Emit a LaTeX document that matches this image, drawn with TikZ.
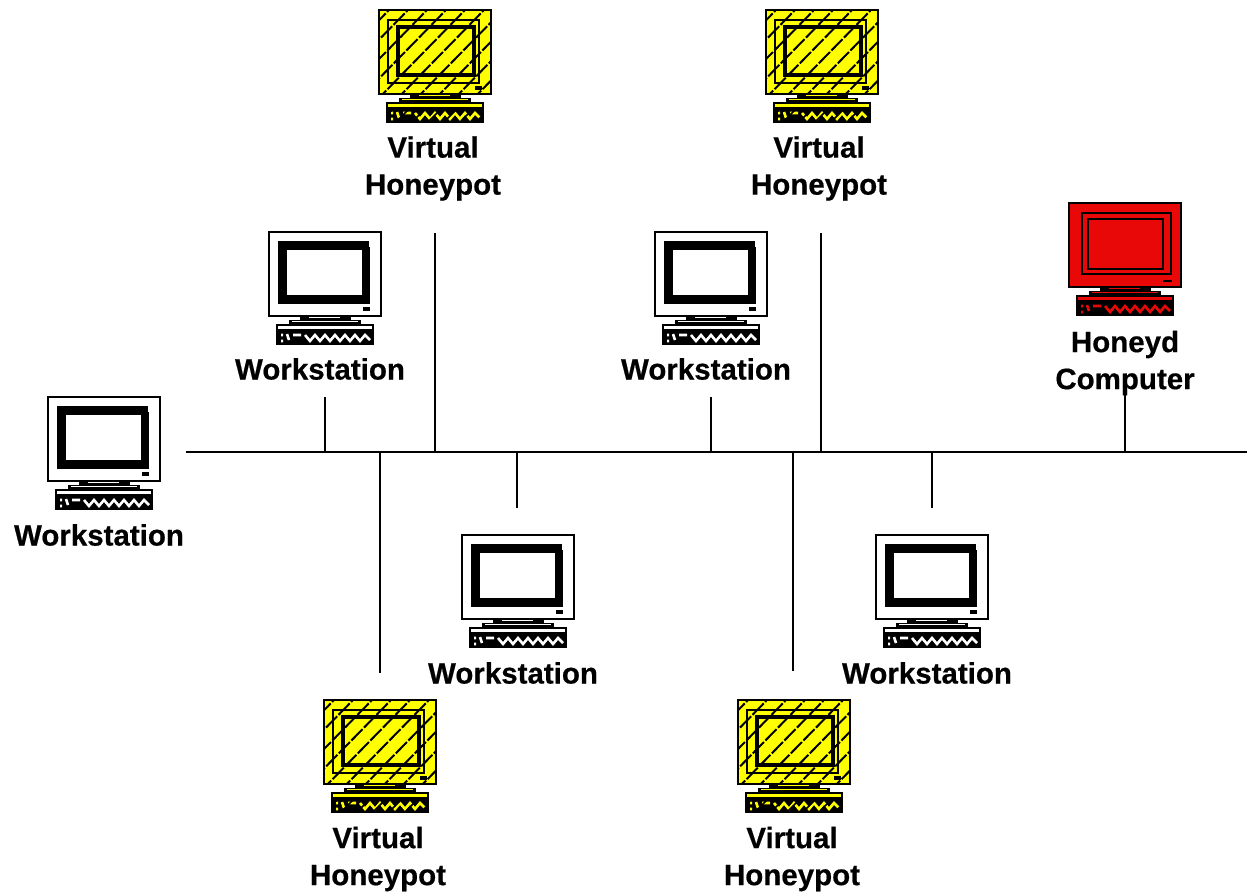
\documentclass[tikz,border=0pt]{standalone}
\usepackage{fontspec}
\setmainfont[BoldFeatures={FakeBold=0.5}]{Liberation Sans}
\definecolor{hy}{RGB}{255,255,0}
\definecolor{hr}{RGB}{232,8,8}
\newcommand{\kbd}[1]{%
  % stand
  \fill[black] (31,84) rectangle (82,88);
  \fill[#1] (40,84.5) rectangle (71,86);
  % base
  \fill[black] (20,87.5) rectangle (92,92.5);
  \fill[#1] (23,88.5) rectangle (89,90);
  % keyboard
  \fill[black] (7,92) rectangle (105,113);
  \fill[#1] (9,94) rectangle (103,97);
  \draw[#1,line width=2.6pt] (12,103) -- (14,103) (12,109) -- (14,109) (18,102) -- (20,108) (24,103) -- (32,103)
    (36,103) -- (41,109) -- (46,103) -- (51,109) -- (56,103) -- (61,109) -- (66,103) -- (71,109) -- (76,103) -- (81,109) -- (86,103) -- (91,109) -- (96,103) -- (101,108);
}
\newcommand{\hatchlines}{%
  \foreach \k in {-6,...,6}{
    \draw[black,line width=2pt,dash pattern=on 16pt off 2pt] (\k*19+15,92) -- (\k*19+107,-2);
  }
}
\tikzset{
  conn/.style={black,line width=1.7pt},
  lab/.style={font=\fontsize{29.5}{37}\selectfont\bfseries,align=center,inner sep=0pt,text=black},
  pics/plainpc/.style={code={
    \draw[black,line width=1.4pt,fill=white] (0,0) rectangle (112,84);
    \fill[black] (9,9) rectangle (101,72);
    \fill[white] (18,18) rectangle (93,63);
    \fill[white] (99.5,9) rectangle (101,15);
    \fill[black] (94,75) rectangle (101,79);
    \kbd{white}
  }},
  pics/honeypc/.style={code={
    \fill[hy] (0,0) rectangle (112,84);
    \begin{scope}
      \clip (0,0) rectangle (112,84);
      \hatchlines
    \end{scope}
    \draw[black,line width=1.6pt] (0,0) rectangle (112,84);
    \draw[black,line width=2.2pt] (9,10) rectangle (100,73);
    \draw[black,line width=2.2pt] (18,16) rectangle (96,66);
    \draw[black,line width=1.8pt] (20,18) rectangle (94,64);
    \fill[black] (96,76) rectangle (103,80);
    \kbd{hy}
    \begin{scope}
      \clip (9,98) rectangle (103,111);
      \foreach \k in {0,...,6}{\draw[black,line width=1.6pt] (\k*16+2,111) -- (\k*16+15,98);}
    \end{scope}
  }},
  pics/redpc/.style={code={
    \fill[hr,draw=black,line width=1.6pt] (0,0) rectangle (112,84);
    \draw[black,line width=2.4pt] (13,10) rectangle (102,71);
    \draw[black,line width=2.2pt] (19,16) rectangle (94,66);
    \fill[black] (94,77) rectangle (103,79);
    \kbd{hr}
  }}
}
\begin{document}
\begin{tikzpicture}[x=1pt,y=-1pt]
\useasboundingbox (0,0) rectangle (1247,894);
\fill[white] (0,0) rectangle (1247,894);
% computers
\pic at (379,10) {honeypc};
\pic at (766,10) {honeypc};
\pic at (269,232) {plainpc};
\pic at (655,232) {plainpc};
\pic at (48,397) {plainpc};
\pic at (1069,203) {redpc};
\pic at (462,535) {plainpc};
\pic at (876,535) {plainpc};
\pic at (324,700) {honeypc};
\pic at (738,700) {honeypc};
% labels
\node[lab] (vh1) at (433,168.5) {Virtual\\Honeypot};
\node[lab] (vh2) at (819,168.5) {Virtual\\Honeypot};
\node[lab] (ws1) at (320,369) {Workstation};
\node[lab] (ws2) at (706,369) {Workstation};
\node[lab] (ws3) at (99,535) {Workstation};
\node[lab] (ws4) at (513,673) {Workstation};
\node[lab] (ws5) at (927,673) {Workstation};
\node[lab] (hc) at (1125,363) {Honeyd\\Computer};
\node[lab] (vh3) at (378,859) {Virtual\\Honeypot};
\node[lab] (vh4) at (792,859) {Virtual\\Honeypot};
% connector ends
\coordinate (busL) at (186,452);
\coordinate (busR) at (1247,452);
\coordinate (a1) at (325,397); \coordinate (b1) at (325,452);
\coordinate (a2) at (435,233); \coordinate (b2) at (435,452);
\coordinate (a3) at (711,397); \coordinate (b3) at (711,452);
\coordinate (a4) at (821,233); \coordinate (b4) at (821,452);
\coordinate (a5) at (1125,390); \coordinate (b5) at (1125,452);
\coordinate (a6) at (380,673); \coordinate (b6) at (380,452);
\coordinate (a7) at (517,508); \coordinate (b7) at (517,452);
\coordinate (a8) at (793,671); \coordinate (b8) at (793,452);
\coordinate (a9) at (932,508); \coordinate (b9) at (932,452);
\draw[conn] (busL) -- (busR);
\foreach \n in {1,...,9}{\draw[conn] (a\n) -- (b\n);}
\end{tikzpicture}
\end{document}
